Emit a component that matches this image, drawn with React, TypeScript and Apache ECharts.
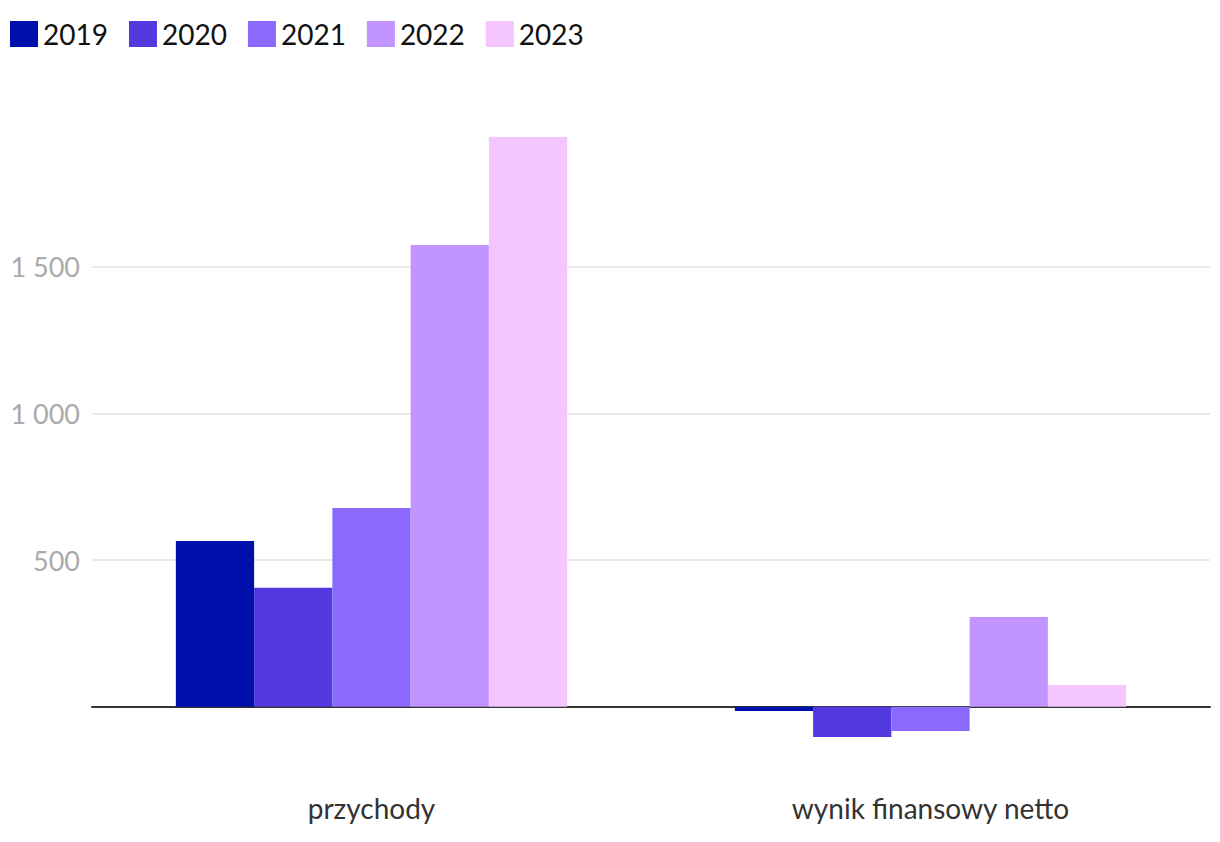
import React, { useEffect, useRef } from "react";
import * as echarts from "echarts";

const categories = ["przychody", "wynik finansowy netto"];
const years = ["2019", "2020", "2021", "2022", "2023"];
const values2019 = [565, -15];
const values2020 = [405, -103];
const values2021 = [677, -83];
const values2022 = [1574, 306];
const values2023 = [1942, 74];
const seriesValues = [values2019, values2020, values2021, values2022, values2023];
const colors = ["#0010AD", "#5439DE", "#8B69FF", "#C194FF", "#F4C5FF"];
const yMin = -250;
const yMax = 2000;
const yStep = 250;
const gridValues = [500, 1000, 1500];
const tickLabels = ["500", "1 000", "1 500"];

export default function App() {
  const ref = useRef<HTMLDivElement>(null);
  useEffect(() => {
    if (!ref.current) return;
    const chart = echarts.init(ref.current, null, { renderer: "svg" });
    const tickCount = Math.round((yMax - yMin) / yStep) + 1;
    const splitColors: string[] = [];
    for (let i = 0; i < tickCount; i++) {
      const v = yMin + i * yStep;
      splitColors.push(gridValues.includes(v) ? "#e3e3e3" : "rgba(0,0,0,0)");
    }
    chart.setOption({
      animation: false,
      textStyle: { fontFamily: "Lato" },
      color: colors,
      legend: {
        left: 10,
        top: 20,
        padding: 0,
        icon: "rect",
        itemWidth: 28,
        itemHeight: 26,
        itemGap: 21,
        textStyle: { fontSize: 28, color: "#111", fontFamily: "Lato" },
        data: years,
      },
      grid: { left: 92, right: 10, top: 120, bottom: 62, outerBoundsMode: "none", containLabel: false },
      xAxis: {
        type: "category",
        data: categories,
        axisLine: { show: true, onZero: true, lineStyle: { color: "#333", width: 2 } },
        axisTick: { show: false },
        axisLabel: { fontSize: 28, color: "#333", margin: 14, fontFamily: "Lato" },
      },
      yAxis: {
        type: "value",
        min: yMin,
        max: yMax,
        interval: yStep,
        axisLine: { show: false },
        axisTick: { show: false },
        splitLine: { show: true, lineStyle: { color: splitColors, width: 1.5 } },
        axisLabel: {
          fontSize: 27,
          color: "#aaa",
          margin: 12,
          fontFamily: "Lato",
          formatter: (v: number) => {
            const idx = gridValues.indexOf(v);
            return idx >= 0 ? tickLabels[idx] : "";
          },
        },
      },
      series: years.map((y, i) => ({
        name: y,
        type: "bar",
        data: seriesValues[i],
        barGap: "0%",
        barCategoryGap: "30%",
        itemStyle: { color: colors[i] },
      })),
    });
    return () => chart.dispose();
  }, []);
  return (
    <div
      ref={ref}
      style={{ position: "fixed", left: 0, top: 0, width: 1220, height: 842, background: "#fff" }}
    />
  );
}
